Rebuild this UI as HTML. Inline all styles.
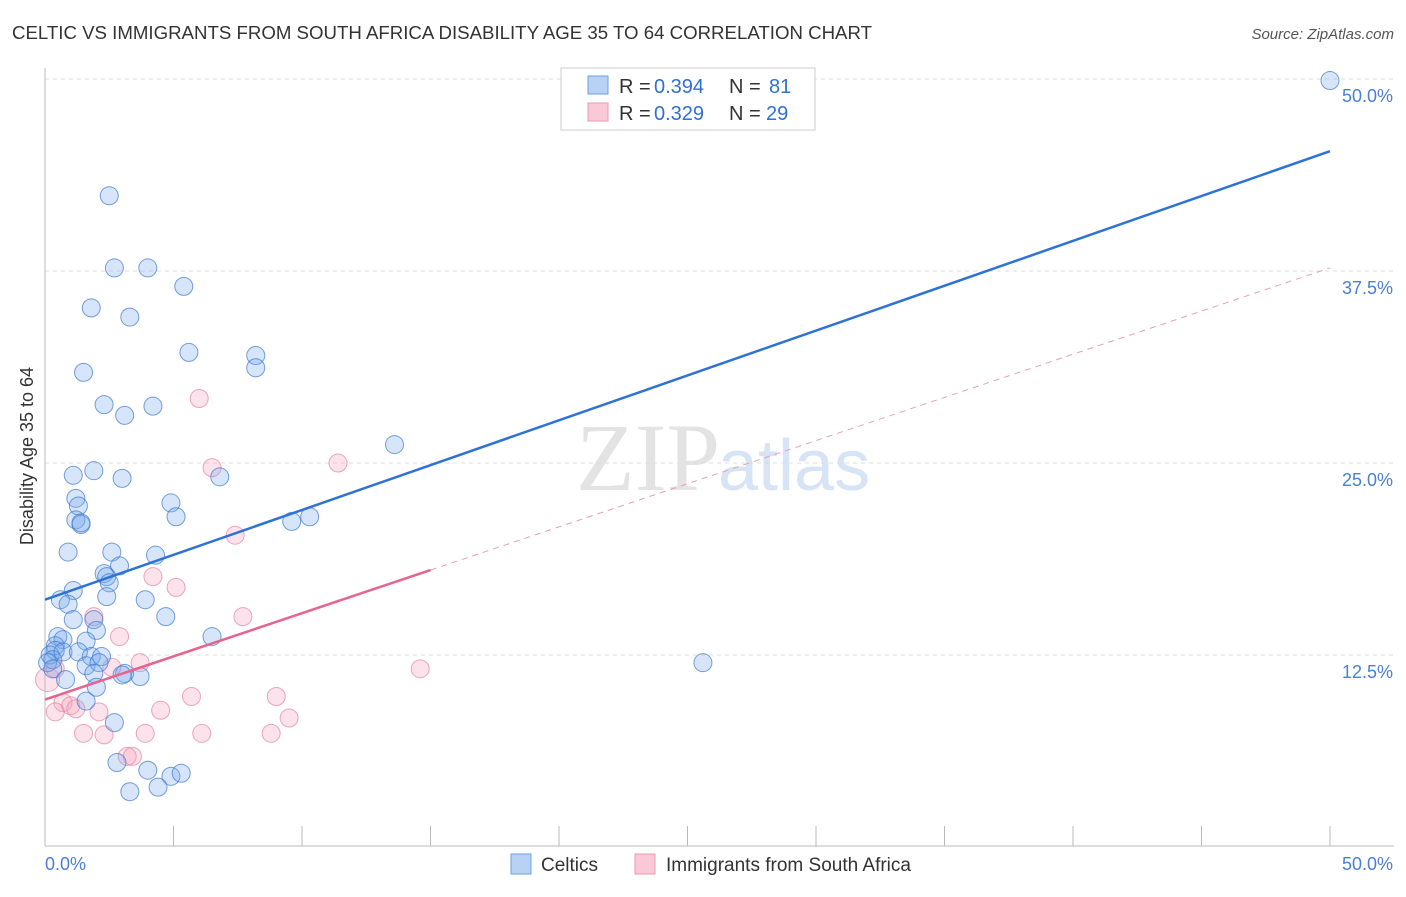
<!DOCTYPE html>
<html><head><meta charset="utf-8"><style>
body{margin:0;background:#fff;font-family:"Liberation Sans",sans-serif}
</style></head><body>
<svg width="1406" height="892" xmlns="http://www.w3.org/2000/svg" id="chart" font-family="Liberation Sans, sans-serif">
<text x="12" y="39" font-size="18" fill="#333" textLength="860" lengthAdjust="spacingAndGlyphs">CELTIC VS IMMIGRANTS FROM SOUTH AFRICA DISABILITY AGE 35 TO 64 CORRELATION CHART</text>
<text x="1394" y="39" font-size="15" fill="#555" font-style="italic" text-anchor="end">Source: ZipAtlas.com</text>
<text x="720" y="490" font-size="96" fill="#e3e3e3" text-anchor="end" font-family="Liberation Serif, serif">ZIP</text>
<text x="718" y="490" font-size="72" fill="#d6e4f5">atlas</text>
<g id="grid"></g>
<line x1="45" y1="68" x2="45" y2="846" stroke="#bbb"/>
<line x1="45" y1="846" x2="1394" y2="846" stroke="#bbb"/>
<text x="33" y="456" font-size="18" fill="#333" text-anchor="middle" transform="rotate(-90 33 456)">Disability Age 35 to 64</text>
<text x="45" y="870" font-size="18" fill="#4a7fd4">0.0%</text>
<text x="1393" y="870" font-size="18" fill="#4a7fd4" text-anchor="end">50.0%</text>
<g id="pts"></g>
<g id="lines"></g>
<g>
<rect x="561" y="68" width="254" height="62" fill="#fff" stroke="#ccc"/>
<rect x="588" y="76" width="20" height="18" fill="#b7d2f5" stroke="#6fa0e0"/>
<text x="619" y="93" font-size="20" fill="#333">R =</text>
<text x="654" y="93" font-size="20" fill="#2f6fd6">0.394</text>
<text x="729" y="93" font-size="20" fill="#333">N =</text>
<text x="769" y="93" font-size="20" fill="#2f6fd6">81</text>
<rect x="588" y="103" width="20" height="18" fill="#f9c9d7" stroke="#e89ab2"/>
<text x="619" y="120" font-size="20" fill="#333">R =</text>
<text x="654" y="120" font-size="20" fill="#2f6fd6">0.329</text>
<text x="729" y="120" font-size="20" fill="#333">N =</text>
<text x="766" y="120" font-size="20" fill="#2f6fd6">29</text>
</g>
<g>
<rect x="511" y="854" width="20" height="20" fill="#b7d2f5" stroke="#6fa0e0"/>
<text x="541" y="871" font-size="19" fill="#333">Celtics</text>
<rect x="635" y="854" width="20" height="20" fill="#f9c9d7" stroke="#e89ab2"/>
<text x="666" y="871" font-size="19" fill="#333">Immigrants from South Africa</text>
</g>
</svg>
<script>
const yTicks=[12.5,25,37.5,50];
const xTicks=[0,5,10,15,20,25,30,35,40,45,50];
const blueX=[2.5,2.7,4.0,5.4,1.8,3.3,5.6,8.2,8.2,1.5,2.3,4.2,3.1,13.6,1.1,1.9,3.0,6.8,1.2,1.3,4.9,5.1,1.2,1.4,1.4,9.6,10.3,0.9,2.6,4.3,2.9,2.3,2.4,2.5,1.1,0.6,0.9,2.4,3.9,1.1,1.9,4.7,2.0,0.5,0.7,1.6,6.5,0.4,0.4,0.2,0.3,0.1,0.7,1.3,1.8,2.2,1.6,2.1,0.3,3.1,3.0,3.7,1.9,0.8,2.0,25.6,1.6,2.7,2.8,4.0,4.9,5.3,4.4,3.3,50];
const blueY=[42.4,37.7,37.7,36.5,35.1,34.5,32.2,32.0,31.2,30.9,28.8,28.7,28.1,26.2,24.2,24.5,24.0,24.1,22.7,22.2,22.4,21.5,21.3,21.0,21.1,21.2,21.5,19.2,19.2,19.0,18.3,17.8,17.6,17.2,16.7,16.1,15.8,16.3,16.1,14.8,14.8,15.0,14.1,13.7,13.5,13.4,13.7,13.1,12.8,12.5,12.2,12.0,12.7,12.7,12.4,12.4,11.8,12.0,11.6,11.3,11.2,11.1,11.3,10.9,10.4,12.0,9.5,8.1,5.5,5.0,4.6,4.8,3.9,3.6,49.9];
const pinkX=[6.0,6.5,11.4,7.4,4.2,5.1,1.9,7.7,2.9,3.7,2.6,14.6,0.1,0.4,5.7,9.0,0.7,1.0,1.2,2.1,4.5,0.4,9.5,1.5,2.3,3.9,6.1,8.8,3.2,3.4];
const pinkY=[29.2,24.7,25.0,20.3,17.6,16.9,15.0,15.0,13.7,12.0,11.7,11.6,10.9,11.6,9.8,9.8,9.4,9.2,9.0,8.8,8.9,8.8,8.4,7.4,7.3,7.4,7.4,7.4,5.9,5.9];
const blueFit=[16.1,45.3];
const pinkFit=[9.6,37.7];
const pinkSolidEnd=15;
const NS="http://www.w3.org/2000/svg";
const sx=v=>45+v/50*1285;
const sy=v=>847-v/12.5*192;
function mk(tag,attrs,parent){const e=document.createElementNS(NS,tag);for(const k in attrs)e.setAttribute(k,attrs[k]);parent.appendChild(e);return e;}
const grid=document.getElementById('grid');
yTicks.forEach(t=>{
 const l=mk('line',{x1:45,x2:1394,y1:sy(t),y2:sy(t),stroke:'#ddd','stroke-dasharray':'4,4'},grid);
 
 
 const tx=mk('text',{x:1393,y:sy(t)+23,'font-size':18,fill:'#4a7fd4','text-anchor':'end'},grid);
 tx.textContent=t.toFixed(1)+'%';
 
 
});
xTicks.forEach(t=>{
 const l=mk('line',{x1:sx(t),x2:sx(t),y1:826,y2:846,stroke:'#bbb'},grid);
 
 
});
const pts=document.getElementById('pts');
pinkX.forEach((x,i)=>{
 const c=mk('circle',{cx:sx(x),cy:sy(pinkY[i]),r:i==12?12:9,fill:'rgba(244,160,185,0.3)',stroke:'rgba(230,130,160,0.7)','stroke-width':1},pts);
 
 
});
blueX.forEach((x,i)=>{
 const c=mk('circle',{cx:sx(x),cy:sy(blueY[i]),r:9,fill:'rgba(120,170,235,0.3)',stroke:'rgba(60,120,210,0.7)','stroke-width':1},pts);
 
 
});
const lines=document.getElementById('lines');
const b=mk('line',{x1:sx(0),y1:sy(blueFit[0]),x2:sx(50),y2:sy(blueFit[1]),stroke:'#2f72d6','stroke-width':2.5},lines);


const pAt=x=>pinkFit[0]+(pinkFit[1]-pinkFit[0])*x/50;
const pd=mk('line',{x1:sx(pinkSolidEnd),y1:sy(pAt(pinkSolidEnd)),x2:sx(50),y2:sy(pinkFit[1]),stroke:'#e8a0b5','stroke-width':1,'stroke-dasharray':'6,5'},lines);


const ps=mk('line',{x1:sx(0),y1:sy(pinkFit[0]),x2:sx(pinkSolidEnd),y2:sy(pAt(pinkSolidEnd)),stroke:'#e8638e','stroke-width':2.5},lines);


</script>
</body></html>
